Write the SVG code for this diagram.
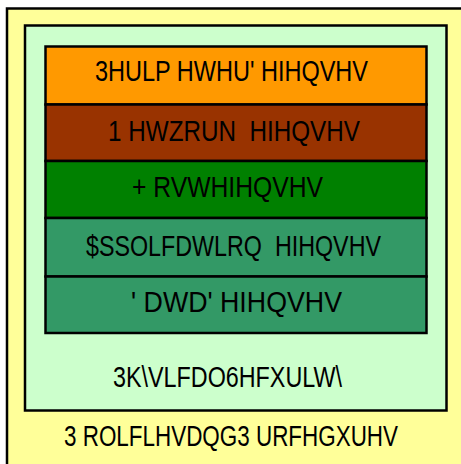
<svg xmlns="http://www.w3.org/2000/svg" width="461" height="464" viewBox="0 0 461 464">
<style>
  .box { stroke: #000; stroke-width: 2.5; }
  .lbl { font-family: "Liberation Sans", Arial, sans-serif; font-size: 29px; fill: #000; white-space: pre; }
</style>
<rect width="461" height="464" fill="#fff"/>
<g id="policies">
  <rect class="box" x="7" y="8.5" width="460" height="462" fill="#FFFF99"/>
  <text class="lbl" x="64" y="446" textLength="334" lengthAdjust="spacingAndGlyphs" xml:space="preserve">3 ROLFLHVDQG3 URFHGXUHV</text>
</g>
<g id="physical">
  <rect class="box" x="25" y="25.5" width="421.5" height="385" fill="#CCFFCC"/>
  <text class="lbl" x="113" y="387" textLength="229" lengthAdjust="spacingAndGlyphs" xml:space="preserve">3K\VLFDO6HFXULW\</text>
</g>
<g id="perimeter">
  <rect class="box" x="45.5" y="46.5" width="381" height="58" fill="#FF9900"/>
  <text class="lbl" x="95" y="81" textLength="273" lengthAdjust="spacingAndGlyphs" xml:space="preserve">3HULP HWHU' HIHQVHV</text>
</g>
<g id="network">
  <rect class="box" x="45.5" y="104.5" width="381" height="56.5" fill="#993300"/>
  <text class="lbl" x="108" y="141" textLength="252" lengthAdjust="spacingAndGlyphs" xml:space="preserve">1 HWZRUN  HIHQVHV</text>
</g>
<g id="host">
  <rect class="box" x="45.5" y="161" width="381" height="57" fill="#008000"/>
  <text class="lbl" x="132" y="197" textLength="191" lengthAdjust="spacingAndGlyphs" xml:space="preserve">+ RVWHIHQVHV</text>
</g>
<g id="application">
  <rect class="box" x="45.5" y="218" width="381" height="58.5" fill="#339966"/>
  <text class="lbl" x="86" y="255.5" textLength="295" lengthAdjust="spacingAndGlyphs" xml:space="preserve">$SSOLFDWLRQ  HIHQVHV</text>
</g>
<g id="data">
  <rect class="box" x="45.5" y="276.5" width="381" height="56.5" fill="#339966"/>
  <text class="lbl" x="131" y="312" textLength="211" lengthAdjust="spacingAndGlyphs" xml:space="preserve">' DWD' HIHQVHV</text>
</g>
<g id="connectors"/>
</svg>
